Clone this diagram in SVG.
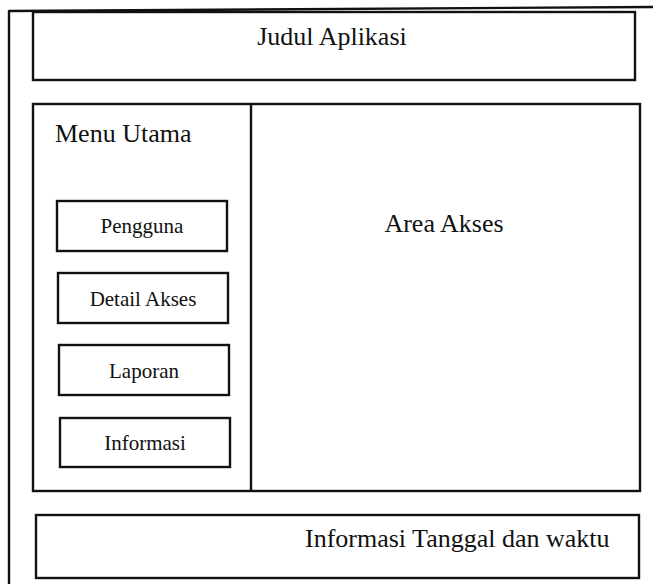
<svg xmlns="http://www.w3.org/2000/svg" width="653" height="584" viewBox="0 0 653 584">
<style>
.box{fill:none;stroke:#111;stroke-width:2.4}
.ln{stroke:#111;stroke-width:2.4;fill:none}
.big{font-family:"Liberation Serif","Times New Roman",serif;font-size:26px;fill:#111}
.btn{font-family:"Liberation Serif","Times New Roman",serif;font-size:21px;fill:#111;text-anchor:middle}
</style>
<rect width="653" height="584" fill="#fff"/>
<g id="frame">
<line class="ln" x1="9" y1="11" x2="653" y2="7"/>
<line class="ln" x1="9" y1="10" x2="9" y2="584"/>
</g>
<g id="header">
<rect class="box" x="33" y="12" width="602" height="68"/>
<text class="big" x="332" y="45" text-anchor="middle">Judul Aplikasi</text>
</g>
<g id="main">
<rect class="box" x="33" y="104" width="607" height="387"/>
</g>
<g id="menu">
<line class="ln" x1="251" y1="104" x2="251" y2="491"/>
<text class="big" x="55" y="142">Menu Utama</text>
</g>
<g id="area-akses">
<text class="big" x="444" y="232" text-anchor="middle">Area Akses</text>
</g>
<g id="btn-pengguna">
<rect class="box" x="57" y="201" width="170" height="50"/>
<text class="btn" x="142" y="233">Pengguna</text>
</g>
<g id="btn-detail">
<rect class="box" x="58" y="273" width="170" height="50"/>
<text class="btn" x="143" y="306">Detail Akses</text>
</g>
<g id="btn-laporan">
<rect class="box" x="59" y="345" width="170" height="50"/>
<text class="btn" x="144" y="378">Laporan</text>
</g>
<g id="btn-informasi">
<rect class="box" x="60" y="418" width="170" height="49"/>
<text class="btn" x="145" y="450">Informasi</text>
</g>
<g id="footer">
<rect class="box" x="36" y="515" width="603" height="63"/>
<text class="big" x="305" y="547">Informasi Tanggal dan waktu</text>
</g>
</svg>
